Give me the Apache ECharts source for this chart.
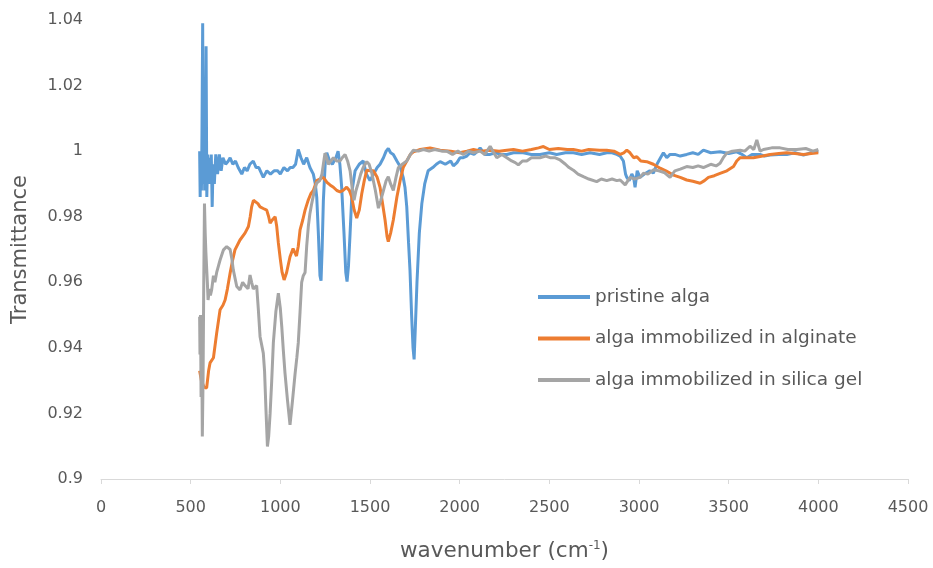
<!DOCTYPE html>
<html><head><meta charset="utf-8">
<script src="https://cdn.jsdelivr.net/npm/echarts@6/dist/echarts.min.js"></script>
<style>html,body{margin:0;padding:0;background:#fff}#c{width:933px;height:568px}</style>
</head><body><div id="c"></div>
<script>
const seriesNames = ["pristine alga", "alga immobilized in alginate", "alga immobilized in silica gel"];
const xTicks = [0, 500, 1000, 1500, 2000, 2500, 3000, 3500, 4000, 4500];
const yTicks = [0.9, 0.92, 0.94, 0.96, 0.98, 1, 1.02, 1.04];

const pristineX = [550,553,556,560,563,567,570,574,578,582,586,590,595,600,605,610,615,620,625,632,640,650,660,670,680,695,710,720,735,750,765,785,800,815,830,849,865,880,905,925,945,965,985,1000,1020,1040,1055,1070,1085,1100,1115,1130,1147,1165,1184,1195,1203,1212,1221,1227,1233,1240,1250,1259,1275,1290,1310,1322,1332,1342,1355,1365,1372,1380,1389,1400,1417,1440,1462,1480,1500,1520,1540,1556,1575,1590,1602,1615,1630,1650,1668,1685,1695,1705,1715,1723,1732,1740,1746,1752,1762,1775,1789,1805,1824,1850,1870,1891,1920,1950,1965,1985,2002,2020,2040,2058,2080,2100,2114,2140,2170,2200,2230,2263,2300,2354,2400,2448,2500,2541,2590,2634,2680,2727,2780,2820,2850,2876,2895,2913,2925,2932,2945,2960,2970,2978,2990,3006,3030,3060,3080,3100,3120,3136,3155,3173,3200,3230,3266,3300,3330,3359,3400,3452,3500,3545,3575,3601,3630,3675,3700,3731,3780,3824,3870,3917,3960,4000];
const pristineY = [1.0,0.986,1.0,0.988,1.005,1.039,0.99,1.022,0.988,1.0,1.032,0.986,0.999,0.99,0.998,0.99,0.999,0.983,0.996,0.99,0.999,0.993,0.999,0.994,0.998,0.996,0.997,0.998,0.996,0.997,0.995,0.993,0.995,0.994,0.996,0.997,0.995,0.995,0.992,0.994,0.993,0.994,0.994,0.993,0.995,0.994,0.995,0.995,0.996,1.0005,0.998,0.996,0.998,0.995,0.993,0.99,0.986,0.975,0.962,0.9605,0.97,0.985,0.996,0.9995,0.997,0.996,0.998,1.0,0.996,0.989,0.975,0.963,0.9602,0.965,0.975,0.988,0.994,0.996,0.997,0.993,0.991,0.993,0.995,0.996,0.998,1.0,1.0008,0.9995,0.999,0.997,0.9953,0.992,0.989,0.983,0.972,0.9637,0.95,0.94,0.9365,0.945,0.96,0.975,0.984,0.99,0.994,0.995,0.996,0.9968,0.996,0.997,0.9955,0.9965,0.998,0.998,0.9985,0.9995,0.999,1.0,1.001,0.999,0.999,0.9995,0.999,0.999,0.9995,0.9995,0.999,0.999,0.9995,0.999,0.9995,0.9995,0.999,0.9995,0.999,0.9995,0.9995,0.999,0.9985,0.997,0.993,0.992,0.991,0.993,0.992,0.989,0.994,0.992,0.993,0.994,0.9933,0.996,0.998,0.9995,0.998,0.999,0.999,0.9985,0.999,0.9995,0.999,1.0003,0.9995,0.9998,0.9993,0.9998,0.999,0.998,0.999,0.999,0.9985,0.9988,0.999,0.999,0.9995,0.9988,0.9995,1.0];

const alginateX = [550,560,575,589,600,608,627,645,664,680,692,705,720,735,747,775,803,822,832,840,850,859,875,887,905,924,935,943,955,971,980,989,1000,1010,1021,1035,1054,1071,1090,1100,1110,1125,1138,1155,1170,1184,1203,1220,1240,1260,1277,1296,1315,1333,1350,1370,1385,1398,1412,1426,1440,1454,1468,1482,1500,1519,1540,1556,1570,1584,1595,1602,1615,1630,1650,1668,1685,1705,1725,1742,1780,1835,1891,1950,2000,2040,2077,2120,2170,2220,2263,2300,2350,2400,2440,2467,2500,2550,2600,2634,2680,2720,2780,2820,2860,2895,2915,2932,2950,2970,2988,3010,3043,3080,3118,3150,3192,3230,3266,3300,3341,3365,3387,3420,3452,3490,3527,3545,3564,3600,3638,3690,3731,3780,3824,3870,3917,3960,4000];
const alginateY = [0.933,0.93,0.928,0.9277,0.933,0.9354,0.937,0.9445,0.9516,0.953,0.9546,0.958,0.9628,0.967,0.9699,0.9729,0.975,0.977,0.98,0.983,0.985,0.9851,0.984,0.983,0.9825,0.982,0.98,0.978,0.979,0.98,0.977,0.972,0.967,0.963,0.9607,0.963,0.9678,0.9703,0.968,0.971,0.976,0.979,0.982,0.985,0.987,0.988,0.991,0.9915,0.992,0.9905,0.9897,0.989,0.988,0.9876,0.988,0.989,0.988,0.986,0.982,0.9796,0.982,0.987,0.991,0.9942,0.994,0.994,0.992,0.989,0.984,0.979,0.974,0.9724,0.975,0.979,0.986,0.991,0.995,0.997,0.999,0.9998,1.0005,1.001,1.0003,1.0,0.9995,1.0,1.0005,1.0,1.0003,1.0,1.0003,1.0005,1.0,1.0005,1.001,1.0014,1.0005,1.0008,1.0005,1.0005,1.0,1.0005,1.0003,1.0003,1.0,0.999,0.9995,1.0003,0.9995,0.998,0.9983,0.997,0.9968,0.996,0.9948,0.994,0.9927,0.992,0.9912,0.9908,0.9902,0.991,0.992,0.9925,0.9932,0.994,0.9953,0.997,0.998,0.998,0.998,0.9985,0.999,0.9993,0.9995,0.9993,0.999,0.9993,0.9995];

const silicaX = [550,552,555,558,562,565,569,573,577,581,585,589,593,597,605,610,617,627,635,645,655,664,683,701,720,730,738,757,775,790,803,820,831,840,849,868,877,887,905,912,920,928,935,943,952,961,975,989,1000,1008,1017,1026,1040,1054,1068,1082,1092,1100,1110,1119,1128,1138,1147,1156,1165,1175,1190,1203,1220,1232,1240,1249,1258,1268,1277,1296,1314,1333,1345,1361,1375,1389,1400,1411,1422,1433,1448,1462,1482,1495,1510,1530,1547,1560,1575,1590,1602,1615,1630,1645,1658,1680,1705,1725,1742,1770,1798,1830,1860,1900,1928,1960,1990,2020,2050,2077,2114,2140,2170,2190,2207,2235,2263,2290,2310,2327,2350,2374,2400,2448,2480,2504,2530,2560,2590,2610,2634,2660,2690,2720,2764,2790,2820,2850,2876,2895,2923,2950,2975,3006,3025,3050,3080,3110,3140,3173,3200,3230,3266,3300,3330,3359,3400,3430,3452,3470,3489,3520,3564,3590,3619,3640,3657,3675,3694,3740,3787,3830,3880,3930,3970,4000];
const silicaY = [0.9495,0.938,0.95,0.925,0.938,0.913,0.93,0.96,0.984,0.975,0.969,0.969,0.96,0.9546,0.958,0.956,0.9577,0.962,0.96,0.963,0.965,0.9668,0.9699,0.9709,0.97,0.967,0.9637,0.9587,0.9577,0.96,0.959,0.958,0.9622,0.96,0.958,0.959,0.952,0.9434,0.9384,0.933,0.921,0.9099,0.913,0.92,0.93,0.9415,0.951,0.9567,0.952,0.9465,0.939,0.9323,0.924,0.9165,0.924,0.932,0.937,0.9415,0.951,0.96,0.962,0.963,0.971,0.977,0.981,0.984,0.988,0.9903,0.991,0.993,0.996,0.9994,0.998,0.996,0.9963,0.998,0.997,0.997,0.998,0.999,0.997,0.994,0.989,0.985,0.988,0.99,0.993,0.995,0.9968,0.996,0.9933,0.988,0.9826,0.985,0.988,0.991,0.9922,0.99,0.988,0.992,0.995,0.996,0.997,0.999,1.0003,1.0,1.0005,1.0,1.0005,1.0,1.0,0.999,1.0,0.999,1.0,0.9995,1.0,0.999,1.0015,0.9995,0.998,0.999,0.998,0.997,0.9965,0.9958,0.997,0.997,0.998,0.998,0.9985,0.998,0.998,0.9973,0.996,0.995,0.9942,0.993,0.9922,0.9915,0.9907,0.9915,0.991,0.9915,0.991,0.9912,0.9897,0.992,0.9915,0.992,0.9933,0.993,0.9943,0.994,0.9935,0.992,0.994,0.9945,0.9953,0.995,0.9955,0.995,0.996,0.9955,0.9963,0.998,0.9994,1.0,1.0003,1.0,1.0015,1.0005,1.0034,1.0,1.0005,1.001,1.001,1.0005,1.0005,1.0008,1.0,1.0005];

const colors = ["#5B9BD5", "#ED7D31", "#A5A5A5"];
const xs = [pristineX, alginateX, silicaX];
const ys = [pristineY, alginateY, silicaY];

const chart = echarts.init(document.getElementById('c'), null, {renderer: 'canvas'});
const FONT = '"DejaVu Sans", sans-serif';
chart.setOption({
  animation: false,
  color: colors,
  textStyle: {fontFamily: FONT},
  grid: {left: 101, right: 25, top: 20, bottom: 89, containLabel: false},
  legend: {
    orient: 'vertical', left: 533, top: 282,
    itemWidth: 52, itemHeight: 4, itemGap: 21.5,
    textStyle: {fontSize: 18.5, lineHeight: 20, color: '#595959', fontFamily: FONT},
    data: seriesNames.map(n => ({name: n, icon: 'rect'}))
  },
  xAxis: {
    type: 'value', min: xTicks[0], max: xTicks[xTicks.length - 1], interval: 500,
    name: 'wavenumber (cm{sup|-1})', nameLocation: 'middle', nameGap: 61,
    nameTextStyle: {fontSize: 21.5, color: '#595959', fontFamily: FONT,
      rich: {sup: {fontSize: 12, verticalAlign: 'top', color: '#595959', fontFamily: FONT, padding: [0,0,10,0]}}},
    axisLine: {show: true, onZero: false, lineStyle: {color: '#D9D9D9', width: 1}},
    axisTick: {show: true, length: 5, lineStyle: {color: '#D9D9D9'}},
    axisLabel: {fontSize: 16, color: '#595959', margin: 21, formatter: v => String(v)},
    splitLine: {show: false}
  },
  yAxis: {
    type: 'value', min: yTicks[0], max: yTicks[yTicks.length - 1], interval: 0.02,
    name: 'Transmittance', nameLocation: 'middle', nameGap: 70, nameRotate: 90,
    nameTextStyle: {fontSize: 21, color: '#595959', fontFamily: FONT},
    axisLine: {show: false}, axisTick: {show: false},
    axisLabel: {fontSize: 16, color: '#595959', margin: 18,
      formatter: v => String(parseFloat(v.toFixed(2)))},
    splitLine: {show: false}
  },
  series: seriesNames.map((n, i) => ({
    name: n, type: 'line', showSymbol: false, symbol: 'none',
    lineStyle: {width: 3, color: colors[i]},
    data: xs[i].map((x, j) => [x, ys[i][j]])
  }))
});
</script></body></html>
